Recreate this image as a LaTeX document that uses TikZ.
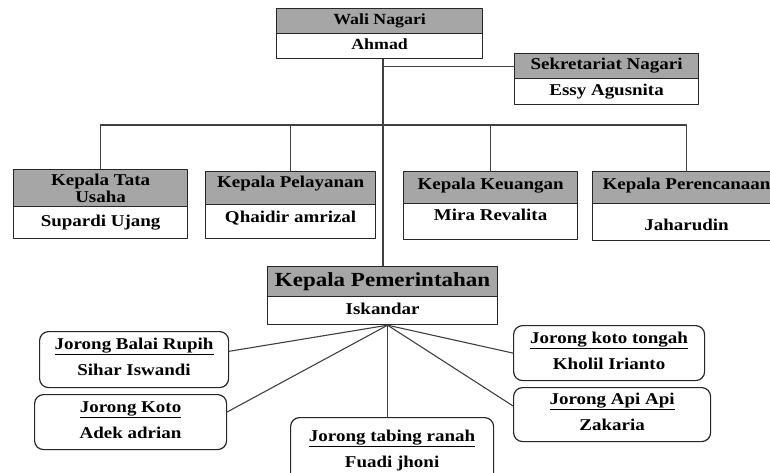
\documentclass[tikz,border=0pt]{standalone}
\usepackage{fontspec}
\setmainfont{Liberation Serif}[FakeStretch=1.15]
\definecolor{abu}{HTML}{A6A6A6}
\begin{document}
\begin{tikzpicture}[x=1pt, y=-1pt, font=\fontsize{16.5}{17}\selectfont\bfseries, line join=round, line cap=round,
	kotak/.style={draw=black!85, line width=1.2pt, inner sep=0pt, anchor=north west, align=center, text height=11pt, text depth=4pt},
	judul/.style={kotak, fill=abu},
	isi/.style={kotak, fill=white},
	jorong/.style={kotak, rounded corners=9pt, text height=36pt, text depth=4pt},
	garis/.style={draw=black!75, line width=1.1pt}]
	\useasboundingbox (0,0) rectangle (770,473);
	\node[judul, minimum width=206pt, minimum height=25pt, font=\fontsize{15.5}{17}\selectfont\bfseries] (wali) at (276,8) {Wali Nagari};
	\node[isi, minimum width=206pt, minimum height=25pt, font=\fontsize{15.5}{17}\selectfont\bfseries] (ahmad) at (276,33) {Ahmad};
	\node[judul, minimum width=184pt, minimum height=25pt] (sek) at (514,53) {Sekretariat Nagari};
	\node[isi, minimum width=184pt, minimum height=26pt] (essy) at (514,78) {Essy Agusnita};
	\node[judul, minimum width=174pt, minimum height=37pt, text height=33pt, text depth=4pt] (tata) at (13,169) {Kepala Tata\\Usaha};
	\node[isi, minimum width=174pt, minimum height=32pt] (supardi) at (13,206) {Supardi Ujang};
	\node[judul, minimum width=170pt, minimum height=33pt, text depth=12pt] (layan) at (205,171) {Kepala Pelayanan};
	\node[isi, minimum width=170pt, minimum height=34pt, text depth=9pt] (qhaidir) at (205,204) {Qhaidir amrizal};
	\node[judul, minimum width=174pt, minimum height=32pt, text depth=7pt] (uang) at (403,171) {Kepala Keuangan};
	\node[isi, minimum width=174pt, minimum height=36pt, text depth=14pt] (mira) at (403,203) {Mira Revalita};
	\node[judul, minimum width=188pt, minimum height=32pt, text depth=7pt] (renc) at (592,171) {Kepala Perencanaan};
	\node[isi, minimum width=188pt, minimum height=37pt, text height=21pt] (jaharudin) at (592,203) {Jaharudin};
	\node[judul, minimum width=230pt, minimum height=30pt, font=\fontsize{20}{21}\selectfont\bfseries, text height=14pt, text depth=5pt] (pemerintah) at (267,266) {Kepala Pemerintahan};
	\node[isi, minimum width=230pt, minimum height=28pt] (iskandar) at (267,296) {Iskandar};
	\node[jorong, minimum width=189pt, minimum height=56pt] (balai) at (39,331) {\underline{Jorong Balai Rupih}\\[8pt]Sihar Iswandi};
	\node[jorong, minimum width=192pt, minimum height=55pt] (koto) at (34,394) {\underline{Jorong Koto}\\[8pt]Adek adrian};
	\node[jorong, minimum width=203pt, minimum height=68pt] (tabing) at (290,417) {\underline{Jorong tabing ranah}\\[8pt]Fuadi jhoni};
	\node[jorong, minimum width=191pt, minimum height=55pt] (tongah) at (513,325) {\underline{Jorong koto tongah}\\[8pt]Kholil Irianto};
	\node[jorong, minimum width=197pt, minimum height=54pt] (api) at (513,387) {\underline{Jorong Api Api}\\[8pt]Zakaria};
	\coordinate (trunk) at (383,0);
	\coordinate (bus) at (0,125);
	\coordinate (hub) at ([xshift=5pt]iskandar.south);
	\draw[garis] (ahmad.south -| trunk) -- (pemerintah.north -| trunk);
	\draw[garis] (trunk |- sek.west) -- (sek.west);
	\draw[garis] (tata.north) |- (bus -| renc.north) -- (renc.north);
	\draw[garis] (layan.north) -- (layan.north |- bus);
	\draw[garis] (uang.north) -- (uang.north |- bus);
	\draw[garis] (hub) -- (balai.5);
	\draw[garis] (hub) -- (koto.6);
	\draw[garis] (hub) -- (hub |- tabing.north);
	\draw[garis] (hub) -- (tongah.west);
	\draw[garis] (hub) -- (api.175);
\end{tikzpicture}
\end{document}
